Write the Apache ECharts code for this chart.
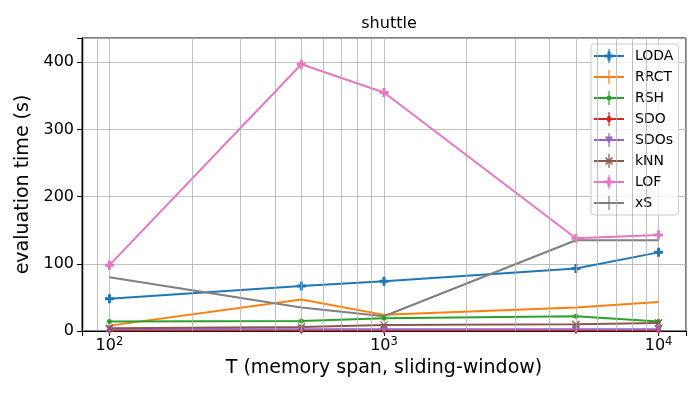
<!DOCTYPE html>
<html>
<head>
<meta charset="utf-8">
<script src="https://cdn.jsdelivr.net/npm/echarts@6/dist/echarts.min.js"></script>
<style>html,body{margin:0;padding:0;background:#fff}#c{width:700px;height:400px}</style>
</head>
<body>
<div id="c"></div>
<script>
// ---- data ----
const T = [100, 500, 1000, 5000, 10000];
const LODA = [48, 67, 74, 93, 117];
const RRCT = [8, 47, 24, 35, 43];
const RSH = [14, 15, 19, 22, 14];
const SDO = [1, 1, 1, 1, 1];
const SDOs = [2.5, 2.5, 2.5, 2.5, 2.5];
const kNN = [4, 6, 9, 10, 12];
const LOF = [98, 397, 355, 138, 143];
const xS = [80, 35, 22, 135, 135];
const seriesNames = ['LODA', 'RRCT', 'RSH', 'SDO', 'SDOs', 'kNN', 'LOF', 'xS'];
const seriesValues = [LODA, RRCT, RSH, SDO, SDOs, kNN, LOF, xS];
const minorGrid = [80, 90, 200, 300, 400, 500, 600, 700, 800, 900, 2000, 3000, 4000, 5000, 6000, 7000, 8000, 9000];

const colors = ['#1f77b4', '#ff7f0e', '#2ca02c', '#d62728', '#9467bd', '#8c564b', '#e377c2', '#7f7f7f'];

const PLUS = 'path://M0,3H3V0H6V3H9V6H6V9H3V6H0Z';
const TRI = 'path://M0,0H2L1,2Z';
const XM = 'path://M0,1L1,0L9,8L8,9Z M8,0L9,1L1,9L0,8Z';
const DIAM = 'path://M3,0L6,4L3,8L0,4Z';
const symbols = [
  {symbol: PLUS, size: 9},
  {symbol: 'none', size: 0},
  {symbol: 'circle', size: 5},
  {symbol: DIAM, size: [6, 8]},
  {symbol: TRI, size: 8},
  {symbol: XM, size: 8},
  {symbol: PLUS, size: 9},
  {symbol: 'none', size: 0}
];

// legend icons (30x14 box): line + error bar + marker
const base = 'M0,6H30V8H0Z M14.4,0H15.6V14H14.4Z ';
const icons = [
  base + 'M10.5,5.5H19.5V8.5H10.5Z M13.5,2.5H16.5V11.5H13.5Z',
  base,
  base + 'M12.5,7A2.5,2.5 0 1,1 17.5,7A2.5,2.5 0 1,1 12.5,7Z',
  base + 'M15,2.5L18,7L15,11.5L12,7Z',
  base + 'M11,3.5H19L15,11Z',
  base + 'M11,4L12,3L19,10L18,11Z M18,3L19,4L12,11L11,10Z',
  base + 'M10.5,5.5H19.5V8.5H10.5Z M13.5,2.5H16.5V11.5H13.5Z',
  base
].map(p => 'path://' + p);

const FONT = 'DejaVu Sans';

const series = seriesNames.map((n, i) => ({
  name: n,
  type: 'line',
  data: T.map((t, j) => [t, seriesValues[i][j]]),
  symbol: symbols[i].symbol,
  symbolSize: symbols[i].size,
  showSymbol: symbols[i].symbol !== 'none',
  lineStyle: {width: 2, color: colors[i]},
  itemStyle: {color: colors[i]},
  animation: false,
  z: 3
}));
series.unshift({
  name: '_grid',
  type: 'line',
  data: [],
  silent: true,
  z: 1,
  animation: false,
  markLine: {
    silent: true,
    symbol: 'none',
    label: {show: false},
    lineStyle: {color: '#b0b0b0', width: 0.8, type: 'solid'},
    animation: false,
    data: minorGrid.map(v => ({xAxis: v}))
  }
});

const isPow10 = v => Math.abs(Math.log10(v) - Math.round(Math.log10(v))) < 1e-6;

const chart = echarts.init(document.getElementById('c'), null, {renderer: 'canvas'});
chart.setOption({
  animation: false,
  color: colors,
  title: {
    text: 'shuttle', left: 384, top: 11, textAlign: 'center',
    textStyle: {fontFamily: FONT, fontSize: 16, fontWeight: 'normal', color: '#000'}
  },
  grid: {left: 82, right: 14, top: 38, bottom: 69, show: true, borderColor: '#000', borderWidth: 1, backgroundColor: 'transparent'},
  legend: {
    data: seriesNames.map((n, i) => ({name: n, icon: icons[i]})),
    orient: 'vertical',
    left: 591, top: 44,
    itemWidth: 30, itemHeight: 14, itemGap: 7,
    padding: [5, 5, 5, 3],
    backgroundColor: 'rgba(255,255,255,0.8)',
    borderColor: '#cccccc', borderWidth: 1, borderRadius: 3,
    textStyle: {fontFamily: FONT, fontSize: 14, color: '#000', padding: [0, 0, 0, 6]},
    selectedMode: false
  },
  xAxis: {
    type: 'log', logBase: 10, min: 79.43, max: 12589,
    name: 'T (memory span, sliding-window)', nameLocation: 'middle', nameGap: 28,
    nameTextStyle: {fontFamily: FONT, fontSize: 19, color: '#000'},
    axisLine: {show: true, lineStyle: {color: '#000', width: 1}},
    axisTick: {show: true, length: 5, lineStyle: {color: '#000'}},
    axisLabel: {
      fontFamily: FONT, fontSize: 16, color: '#000', margin: 5,
      formatter: v => isPow10(v) ? '{n|10}{s|' + Math.round(Math.log10(v)) + '}' : '',
      rich: {
        n: {fontFamily: FONT, fontSize: 16, color: '#000'},
        s: {fontFamily: FONT, fontSize: 11.5, color: '#000', padding: [0, 0, 8, 0]}
      }
    },
    splitLine: {show: true, lineStyle: {color: '#b0b0b0', width: 0.8}}
  },
  yAxis: {
    type: 'value', min: 0, max: 436, interval: 100,
    name: 'evaluation time (s)', nameLocation: 'middle', nameGap: 42,
    nameTextStyle: {fontFamily: FONT, fontSize: 19, color: '#000'},
    axisLine: {show: true, lineStyle: {color: '#000', width: 1}},
    axisTick: {show: true, length: 5, lineStyle: {color: '#000'}},
    axisLabel: {
      fontFamily: FONT, fontSize: 16, color: '#000', margin: 8,
      formatter: v => (v % 100 === 0 ? String(v) : '')
    },
    splitLine: {show: true, lineStyle: {color: '#b0b0b0', width: 0.8}}
  },
  series: series
});
</script>
</body>
</html>
